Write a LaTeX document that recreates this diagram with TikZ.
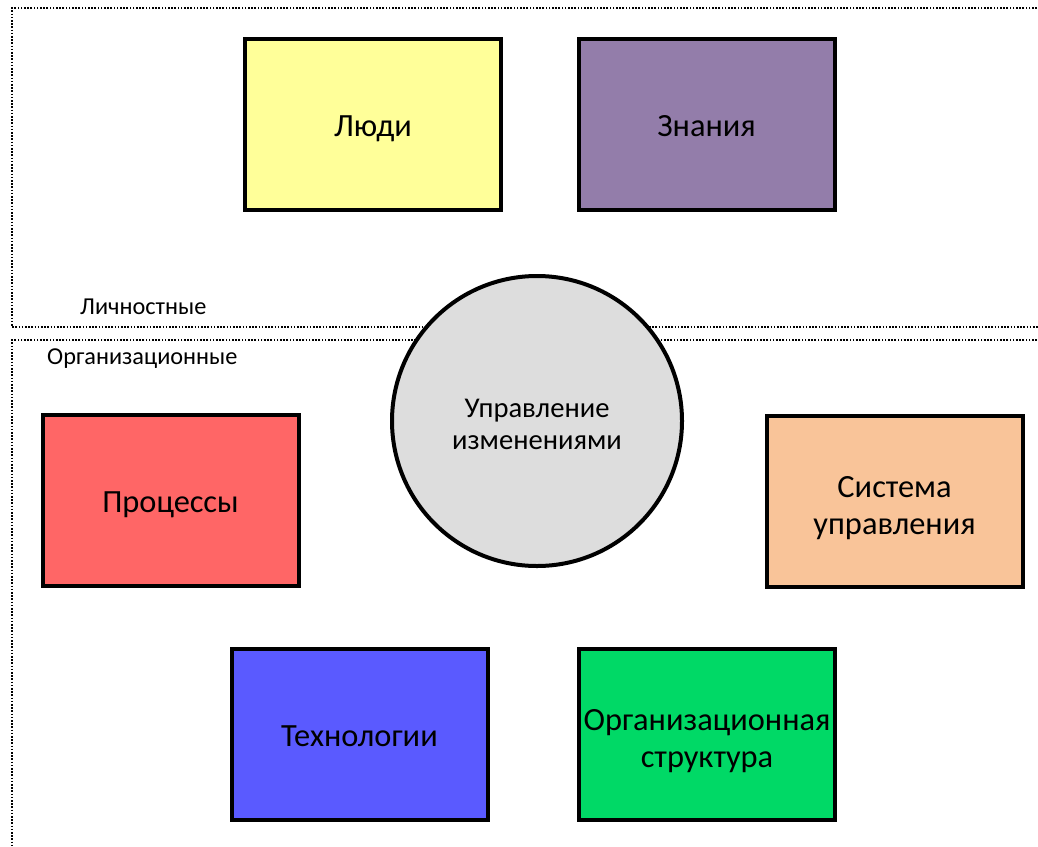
\documentclass[tikz,border=0pt]{standalone}
\usepackage{fontspec}
\setmainfont{Carlito}
\usepackage{tikz}
\definecolor{cPeople}{RGB}{255,255,153}
\definecolor{cKnow}{RGB}{147,125,170}
\definecolor{cProc}{RGB}{255,102,102}
\definecolor{cMgmt}{RGB}{249,196,153}
\definecolor{cTech}{RGB}{90,90,255}
\definecolor{cOrg}{RGB}{0,217,102}
\definecolor{cCirc}{RGB}{221,221,221}
\begin{document}
\begin{tikzpicture}[x=1pt,y=-1pt,box/.style={draw,line width=4pt,minimum width=256pt,minimum height=171pt,align=center,font=\fontsize{32.4}{37}\selectfont},zone/.style={line width=1.2pt,dash pattern=on 1.6pt off 1.6pt},lab/.style={anchor=west,inner sep=0pt,font=\fontsize{24.3}{28}\selectfont}]
\useasboundingbox (0,0) rectangle (1038,846);
\draw[zone] (1040,8) -- (12,8) -- (12,327) -- (1040,327);
\draw[zone] (1040,340) -- (12,340) -- (12,848);
\node[lab] (personal) at (80,307) {Личностные};
\node[lab] (organis) at (47,359) {Организационные};
\foreach \n/\x/\y/\c/\t in {people/373/124.5/cPeople/Люди,know/706.5/124.5/cKnow/Знания,proc/170.5/500.5/cProc/Процессы,mgmt/894.5/501/cMgmt/{Система\\управления},tech/359.5/734/cTech/Технологии,org/707/734/cOrg/{Организационная\\структура}}{\node[box,fill=\c] (\n) at (\x,\y) {\strut\rule{0pt}{36pt}\t};};
\node[draw,circle,line width=4pt,fill=cCirc,minimum size=290pt,align=center,font=\fontsize{28.6}{32}\selectfont] (change) at (537,421) {\rule{0pt}{26pt}Управление\\изменениями};
\end{tikzpicture}
\end{document}
